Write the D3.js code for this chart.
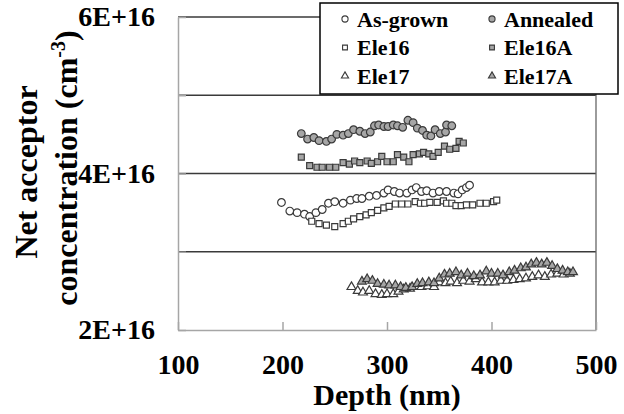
<!DOCTYPE html>
<html>
<head>
<meta charset="utf-8">
<script src="https://cdn.jsdelivr.net/npm/d3@7"></script>
<style>
  body { margin: 0; background: #fff; }
  svg { display: block; }
  text { font-family: "Liberation Serif", "Times New Roman", serif !important; font-weight: bold; fill: #000; }
</style>
</head>
<body>
<svg id="chart" width="624" height="414"></svg>
<script>
// depth in nm, concentration in units of 1E+16 cm^-3
const asGrown = [[199,3.63],[207,3.52],[214,3.50],[221,3.48],[226,3.45],[232,3.50],[238,3.54],[244,3.62],[250,3.64],[258,3.62],[265,3.66],[271,3.68],[276,3.68],[283,3.71],[290,3.72],[297,3.75],[301,3.79],[307,3.77],[312,3.75],[319,3.75],[324,3.79],[328,3.82],[333,3.77],[338,3.78],[344,3.75],[350,3.77],[357,3.77],[364,3.75],[368,3.74],[372,3.79],[376,3.82],[379,3.85]]
const annealed = [[218,4.51],[224,4.44],[230,4.46],[235,4.42],[242,4.41],[247,4.44],[252,4.50],[258,4.49],[263,4.51],[268,4.56],[274,4.54],[279,4.51],[284,4.53],[288,4.61],[292,4.62],[297,4.60],[301,4.60],[306,4.62],[310,4.61],[315,4.59],[320,4.68],[325,4.65],[329,4.58],[334,4.55],[338,4.49],[342,4.48],[346,4.56],[351,4.51],[356,4.53],[357,4.62],[362,4.61]]
const ele16 = [[228,3.39],[235,3.36],[242,3.34],[250,3.32],[258,3.36],[263,3.39],[268,3.42],[274,3.45],[280,3.47],[285,3.50],[291,3.53],[297,3.56],[302,3.58],[308,3.61],[314,3.61],[320,3.61],[327,3.64],[332,3.62],[336,3.62],[341,3.63],[348,3.63],[354,3.65],[357,3.62],[362,3.62],[366,3.59],[371,3.59],[376,3.60],[382,3.60],[389,3.62],[395,3.62],[402,3.64],[405,3.66]]
const ele16A = [[218,4.21],[226,4.10],[233,4.08],[238,4.08],[245,4.08],[251,4.08],[258,4.14],[264,4.12],[269,4.16],[274,4.14],[281,4.16],[285,4.13],[291,4.15],[295,4.22],[300,4.15],[306,4.15],[310,4.24],[316,4.21],[321,4.15],[325,4.24],[331,4.25],[335,4.27],[340,4.25],[344,4.22],[349,4.27],[355,4.35],[360,4.31],[366,4.32],[369,4.41],[373,4.39]]
const ele17 = [[266,2.55],[272,2.50],[277,2.48],[283,2.50],[289,2.46],[295,2.45],[300,2.46],[306,2.46],[311,2.49],[316,2.52],[322,2.53],[328,2.55],[333,2.55],[339,2.56],[345,2.55],[350,2.61],[356,2.60],[361,2.62],[367,2.60],[373,2.63],[379,2.62],[385,2.65],[391,2.61],[397,2.61],[403,2.61],[409,2.63],[415,2.63],[421,2.64],[427,2.65],[433,2.66],[439,2.68],[445,2.70],[451,2.68],[457,2.71],[463,2.72],[469,2.71],[475,2.72]]
const ele17A = [[276,2.62],[281,2.65],[286,2.63],[291,2.59],[297,2.58],[302,2.57],[308,2.57],[313,2.55],[318,2.54],[324,2.55],[329,2.59],[334,2.60],[340,2.61],[345,2.60],[350,2.66],[355,2.71],[360,2.72],[366,2.74],[371,2.70],[377,2.72],[383,2.69],[389,2.70],[395,2.75],[400,2.72],[406,2.72],[411,2.70],[417,2.74],[422,2.76],[428,2.79],[433,2.80],[438,2.84],[443,2.86],[448,2.84],[453,2.86],[458,2.82],[463,2.78],[468,2.76],[473,2.74],[478,2.74]]

const seriesNames = ["As-grown", "Annealed", "Ele16", "Ele16A", "Ele17", "Ele17A"]
const xTicks = [100, 200, 300, 400, 500]
const yTicks = [2, 3, 4, 5, 6]
const yLabels = ["2E+16", "", "4E+16", "", "6E+16"]

const FONT = '"Liberation Serif", "Times New Roman", serif'

const svg = d3.select("#chart")
svg.append("rect").attr("width", 624).attr("height", 414).attr("fill", "#fff")

const x = d3.scaleLinear().domain([100, 500]).range([178, 596])
const y = d3.scaleLinear().domain([2, 6]).range([330, 17])

// gridlines
svg.append("g").selectAll("line").data(yTicks.slice(1)).join("line")
  .attr("x1", x(100)).attr("x2", x(500))
  .attr("y1", d => y(d)).attr("y2", d => y(d))
  .attr("stroke", "#3a3a3a").attr("stroke-width", 1.4)

svg.append("line")
  .attr("x1", x(500)).attr("x2", x(500))
  .attr("y1", y(6)).attr("y2", y(2))
  .attr("stroke", "#666").attr("stroke-width", 1.3)

const yAxis = svg.append("g").attr("transform", `translate(${x(100)},0)`)
  .attr("font-family", FONT)
  .call(d3.axisLeft(y).tickValues(yTicks).tickSize(-8).tickSizeOuter(0).tickPadding(23)
    .tickFormat((d, i) => yLabels[i]))
yAxis.attr("font-family", FONT).selectAll("text").style("font-size", "28px")

const xAxis = svg.append("g").attr("transform", `translate(0,${y(2)})`)
  .call(d3.axisBottom(x).tickValues(xTicks).tickSize(-8).tickSizeOuter(0).tickPadding(24))
xAxis.attr("font-family", FONT).selectAll("text").style("font-size", "28px")

svg.selectAll(".domain").attr("stroke", "#a6a6a6").attr("stroke-width", 1.5)
svg.selectAll(".tick line").attr("stroke", "#a6a6a6").attr("stroke-width", 1.5)

// axis titles
svg.append("text").attr("x", x(300)).attr("y", 405)
  .attr("text-anchor", "middle").style("font-size", "30px").text("Depth (nm)")

svg.append("text").attr("transform", "translate(37,172) rotate(-90)")
  .attr("text-anchor", "middle").style("font-size", "32px").text("Net acceptor")

const t2 = svg.append("text").attr("transform", "translate(77,168) rotate(-90)")
  .attr("text-anchor", "middle").style("font-size", "32px")
t2.append("tspan").text("concentration (cm")
t2.append("tspan").attr("dy", -12).style("font-size", "20px").text("-3")
t2.append("tspan").attr("dy", 12).text(")")

// markers
const styles = [
  { data: asGrown, type: d3.symbolCircle, size: 46, fill: "#fff" },
  { data: annealed, type: d3.symbolCircle, size: 46, fill: "#a6a6a6" },
  { data: ele16, type: d3.symbolSquare, size: 36, fill: "#fff" },
  { data: ele16A, type: d3.symbolSquare, size: 36, fill: "#a6a6a6" },
  { data: ele17, type: d3.symbolTriangle, size: 34, fill: "#fff" },
  { data: ele17A, type: d3.symbolTriangle, size: 34, fill: "#a6a6a6" }
]

styles.forEach(s => {
  svg.append("g").selectAll("path").data(s.data).join("path")
    .attr("transform", d => `translate(${x(d[0])},${y(d[1])})`)
    .attr("d", d3.symbol().type(s.type).size(s.size))
    .attr("fill", s.fill)
    .attr("stroke", "#3a3a3a")
    .attr("stroke-width", 1.2)
})

// legend
const L = svg.append("g")
L.append("rect").attr("x", 320).attr("y", 3).attr("width", 298).attr("height", 91)
  .attr("fill", "#fff").attr("stroke", "#000").attr("stroke-width", 1.5)

seriesNames.forEach((name, i) => {
  const col = i % 2
  const row = Math.floor(i / 2)
  const lx = col === 0 ? 345 : 492
  const ly = 19 + row * 28.5
  L.append("path")
    .attr("transform", `translate(${lx},${ly})`)
    .attr("d", d3.symbol().type(styles[i].type).size(styles[i].size * 0.65))
    .attr("fill", styles[i].fill).attr("stroke", "#3a3a3a").attr("stroke-width", 1.1)
  L.append("text").attr("x", lx + 12).attr("y", ly + 7.5)
    .attr("font-family", FONT)
    .style("font-size", "22px").text(name)
})
</script>
</body>
</html>
